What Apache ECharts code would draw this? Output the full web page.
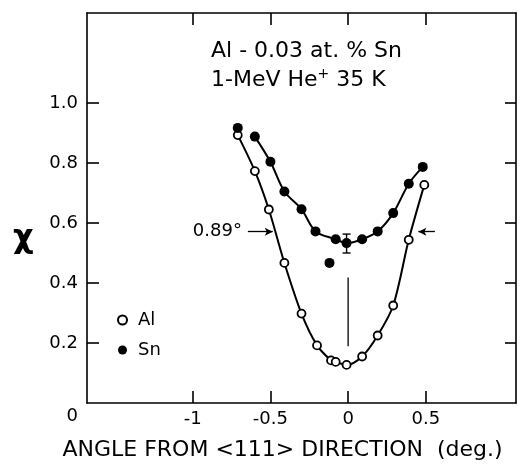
<!DOCTYPE html>
<html>
<head>
<meta charset="utf-8">
<script src="https://cdn.jsdelivr.net/npm/echarts@6/dist/echarts.min.js"></script>
<style>
  html, body { margin: 0; padding: 0; background: #fff; }
  #chart { width: 525px; height: 466px; }
</style>
</head>
<body>
<div id="chart"></div>
<script>
// Channeling dip: minimum yield chi vs. tilt angle from the <111> axis
const alAngle = [-0.71, -0.60, -0.51, -0.41, -0.30, -0.20, -0.11, -0.08, -0.01, 0.09, 0.19, 0.29, 0.39, 0.49];
const alChi   = [0.893, 0.773, 0.645, 0.467, 0.298, 0.192, 0.142, 0.137, 0.127, 0.155, 0.225, 0.325, 0.544, 0.727];

const snAngle = [-0.71, -0.60, -0.50, -0.41, -0.30, -0.21, -0.08, -0.01, 0.09, 0.19, 0.29, 0.39, 0.48];
const snChi   = [0.917, 0.888, 0.804, 0.705, 0.646, 0.572, 0.546, 0.533, 0.546, 0.572, 0.633, 0.731, 0.787];
const snExtra = [[-0.12, 0.467]];          // isolated Sn point off the fitted curve
const snError = [[-0.01, 0.500, 0.563]];   // angle, low, high

const centerMark = [[0, 0.418], [0, 0.189]];            // vertical marker at the axis
const halfWidthLeft  = [[-0.645, 0.571], [-0.485, 0.571]];
const halfWidthRight = [[0.558, 0.571], [0.452, 0.571]];
const halfWidthText = '0.89°';

const xTicks = [-1, -0.5, 0, 0.5];
const yLabels = [0, 0.2, 0.4, 0.6, 0.8, 1.0];
const yTicks = [0.2, 0.4, 0.6, 0.8, 1.0];

const zip = (xs, ys) => xs.map((x, i) => [x, ys[i]]);
const alData = zip(alAngle, alChi);
const snData = zip(snAngle, snChi);

const FONT = 'DejaVu Sans';
const axisLineStyle = { color: '#000', width: 1.6 };

const chart = echarts.init(document.getElementById('chart'), null, { renderer: 'canvas' });

chart.setOption({
  animation: false,
  backgroundColor: '#fff',
  textStyle: { fontFamily: FONT, color: '#000' },
  title: {
    text: 'Al - 0.03 at. % Sn\n1-MeV He{sup|+} 35 K',
    left: 206,
    top: 32,
    textStyle: {
      fontFamily: FONT, fontSize: 22, fontWeight: 'normal', color: '#000', lineHeight: 29,
      rich: { sup: { fontFamily: FONT, fontSize: 14, padding: [0, 0, 12, 0], color: '#000' } }
    }
  },
  legend: {
    orient: 'vertical',
    left: 112,
    top: 306,
    itemWidth: 9,
    itemHeight: 9,
    itemGap: 12,
    data: [{ name: 'Al', icon: 'circle' }, { name: 'Sn', icon: 'circle' }],
    textStyle: { fontFamily: FONT, fontSize: 18, color: '#000', padding: [0, 0, 0, 6] }
  },
  grid: { left: 87, right: 9, top: 13, bottom: 58, containLabel: false },
  xAxis: [
    {
      type: 'value', min: -1.68, max: 1.08, position: 'bottom',
      name: 'ANGLE FROM <111> DIRECTION  (deg.)',
      nameLocation: 'middle', nameGap: 36,
      nameTextStyle: { fontFamily: FONT, fontSize: 22, color: '#000', padding: [0, 38, 0, 0] },
      axisLine: { show: true, onZero: false, lineStyle: axisLineStyle },
      axisTick: { show: true, inside: true, length: 12, customValues: xTicks, lineStyle: axisLineStyle },
      axisLabel: {
        customValues: xTicks, margin: 7, fontFamily: FONT, fontSize: 18, color: '#000',
        formatter: v => String(v)
      },
      splitLine: { show: false }
    },
    {
      type: 'value', min: -1.68, max: 1.08, position: 'top',
      axisLine: { show: true, onZero: false, lineStyle: axisLineStyle },
      axisTick: { show: true, inside: true, length: 12, customValues: xTicks, lineStyle: axisLineStyle },
      axisLabel: { show: false },
      splitLine: { show: false }
    }
  ],
  yAxis: [
    {
      type: 'value', min: 0, max: 1.3, position: 'left',
      axisLine: { show: true, onZero: false, lineStyle: axisLineStyle },
      axisTick: { show: true, inside: true, length: 12, customValues: yTicks, lineStyle: axisLineStyle },
      axisLabel: {
        customValues: yLabels, margin: 9, fontFamily: FONT, fontSize: 18, color: '#000',
        formatter: v => (v === 0 ? '{z|0}' : v.toFixed(1)),
        rich: { z: { fontFamily: FONT, fontSize: 18, color: '#000', padding: [26, 0, 0, 0] } }
      },
      splitLine: { show: false }
    },
    {
      type: 'value', min: 0, max: 1.3, position: 'right',
      axisLine: { show: true, onZero: false, lineStyle: axisLineStyle },
      axisTick: { show: true, inside: true, length: 11, customValues: yTicks, lineStyle: axisLineStyle },
      axisLabel: { show: false },
      splitLine: { show: false }
    }
  ],
  graphic: [
    {
      type: 'text', left: 13, top: 223,
      style: { text: 'χ', fontFamily: FONT, fontSize: 32, fontWeight: 'bold', fill: '#000' }
    }
  ],
  series: [
    {
      name: 'Al', type: 'line', data: alData, smooth: 0.3,
      symbol: 'circle', symbolSize: 8, z: 3,
      lineStyle: { color: '#000', width: 2 },
      itemStyle: { color: '#fff', borderColor: '#000', borderWidth: 1.8, opacity: 1 }
    },
    {
      name: 'Sn fit', type: 'line', data: snData.slice(1), smooth: 0.3,
      showSymbol: false, symbol: 'none', z: 2,
      lineStyle: { color: '#000', width: 2 }
    },
    {
      name: 'Sn', type: 'scatter', data: snData.concat(snExtra),
      symbol: 'circle', symbolSize: 10, z: 4,
      itemStyle: { color: '#000', borderColor: '#000', borderWidth: 0, opacity: 1 }
    },
    {
      name: 'Sn error', type: 'custom', data: snError, z: 5,
      encode: { x: 0, y: [1, 2] },
      renderItem: (params, api) => {
        const x = api.value(0);
        const lo = api.coord([x, api.value(1)]);
        const hi = api.coord([x, api.value(2)]);
        const w = 4;
        const st = { stroke: '#000', lineWidth: 1.4 };
        return {
          type: 'group',
          children: [
            { type: 'line', shape: { x1: lo[0], y1: lo[1], x2: hi[0], y2: hi[1] }, style: st },
            { type: 'line', shape: { x1: lo[0] - w, y1: lo[1], x2: lo[0] + w, y2: lo[1] }, style: st },
            { type: 'line', shape: { x1: hi[0] - w, y1: hi[1], x2: hi[0] + w, y2: hi[1] }, style: st }
          ]
        };
      }
    },
    {
      name: 'axis marker', type: 'line', data: centerMark,
      symbol: 'none', z: 1,
      lineStyle: { color: '#000', width: 1.3 },
      markLine: {
        silent: true,
        symbol: ['none', 'arrow'],
        symbolSize: [6, 8],
        lineStyle: { color: '#000', width: 1.3, type: 'solid' },
        label: { show: false },
        data: [
          [
            { coord: halfWidthLeft[0], label: { show: true, position: 'start', formatter: halfWidthText, fontFamily: FONT, fontSize: 18, color: '#000', distance: 6 } },
            { coord: halfWidthLeft[1] }
          ],
          [
            { coord: halfWidthRight[0] },
            { coord: halfWidthRight[1] }
          ]
        ]
      }
    }
  ]
});
</script>
</body>
</html>
